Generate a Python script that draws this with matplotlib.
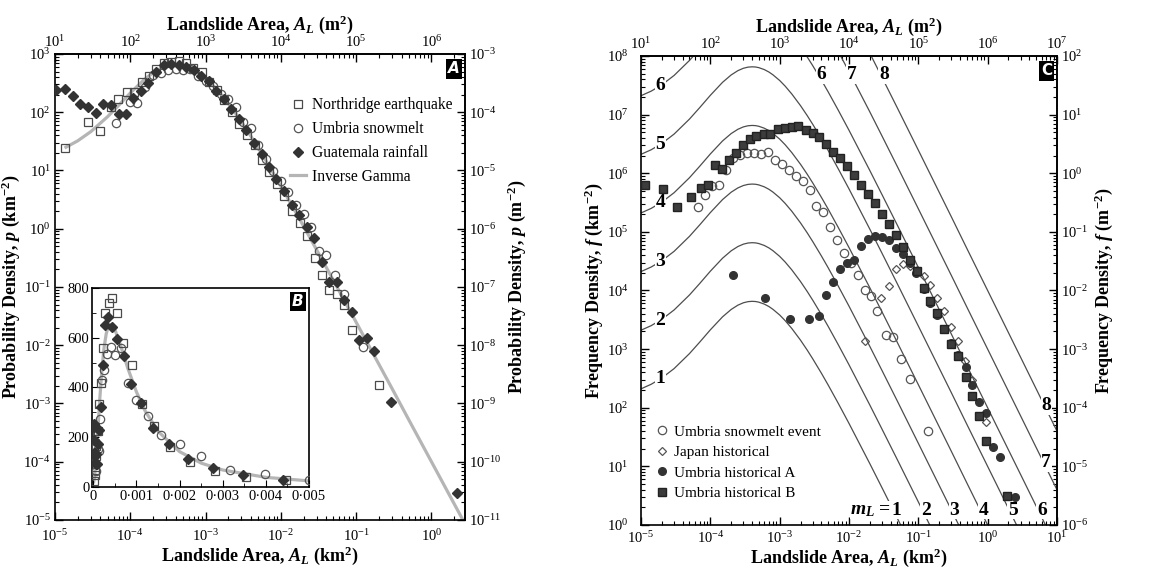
import numpy as np
import matplotlib.pyplot as plt
from matplotlib.ticker import (FixedLocator, LogLocator, NullFormatter, MultipleLocator,
                               FuncFormatter)

plt.rcParams['font.family'] = 'serif'
plt.rcParams['font.serif'] = ['Liberation Serif', 'DejaVu Serif']
plt.rcParams['mathtext.fontset'] = 'custom'
plt.rcParams['mathtext.rm'] = 'Liberation Serif'
plt.rcParams['mathtext.it'] = 'Liberation Serif:italic'
plt.rcParams['mathtext.bf'] = 'Liberation Serif:bold'
plt.rcParams['mathtext.bfit'] = 'Liberation Serif:italic:bold'
plt.rcParams['axes.linewidth'] = 1.2

# --- panel A / B : probability densities (km^2, km^-2) ---
northridge_area = [1.35e-5, 2.73e-5, 3.98e-5, 5.52e-5, 6.98e-5, 8.93e-5, 1.12e-4, 1.42e-4, 1.77e-4, 2.22e-4,
                   2.78e-4, 3.52e-4, 4.41e-4, 5.52e-4, 6.9e-4, 8.9e-4, 1.12e-3, 1.41e-3, 1.77e-3, 2.24e-3,
                   2.82e-3, 3.55e-3, 4.47e-3, 5.6e-3, 7.0e-3, 8.8e-3, 1.1e-2, 1.42e-2, 1.79e-2, 2.24e-2,
                   2.84e-2, 3.56e-2, 4.4e-2, 5.5e-2, 6.85e-2, 8.85e-2, 0.2]
northridge_p = [24, 69, 48, 124, 166, 224, 224, 333, 420, 560,
                700, 740, 760, 700, 580, 490, 335, 245, 162, 100,
                64, 40, 27, 15.3, 9.3, 5.9, 3.7, 2.0, 1.25, 0.75,
                0.32, 0.16, 0.088, 0.077, 0.049, 0.018, 2.1e-3]

umbria_area = [6.4e-5, 9.8e-5, 1.23e-4, 1.58e-4, 2.03e-4, 2.56e-4, 3.2e-4, 4.0e-4, 5.0e-4, 6.3e-4,
               8.0e-4, 1.0e-3, 1.26e-3, 1.58e-3, 2.0e-3, 2.5e-3, 3.16e-3, 3.98e-3, 5.0e-3, 6.3e-3,
               7.9e-3, 1.0e-2, 1.26e-2, 1.58e-2, 2.0e-2, 2.5e-2, 3.2e-2, 4.0e-2, 5.2e-2, 7.0e-2, 0.125]
umbria_p = [65, 151, 146, 274, 430, 470, 535, 561, 531, 558,
            420, 350, 285, 208, 172, 124, 67, 54, 27.5, 16,
            9.9, 6.7, 4.2, 2.6, 1.8, 1.07, 0.42, 0.36, 0.16, 0.075, 9.5e-3]

guatemala_area = [1.04e-5, 1.36e-5, 1.74e-5, 2.18e-5, 2.75e-5, 3.48e-5, 4.4e-5, 5.6e-5, 7.0e-5, 8.75e-5,
                  1.1e-4, 1.39e-4, 1.74e-4, 2.2e-4, 2.78e-4, 3.48e-4, 4.4e-4, 5.5e-4, 7.0e-4, 8.7e-4,
                  1.1e-3, 1.39e-3, 1.75e-3, 2.2e-3, 2.78e-3, 3.48e-3, 4.4e-3, 5.6e-3, 7.0e-3, 8.75e-3,
                  1.1e-2, 1.42e-2, 1.75e-2, 2.24e-2, 2.78e-2, 3.56e-2, 4.4e-2, 5.5e-2, 7.0e-2, 8.85e-2,
                  0.11, 0.14, 0.175, 0.293, 2.2]
guatemala_p = [240, 252, 189, 136, 124, 98, 136, 131, 92, 92,
               173, 231, 320, 490, 650, 684, 645, 595, 528, 415,
               337, 236, 171, 113, 76, 49, 30, 19, 11.6, 7.1,
               4.4, 2.6, 1.69, 1.07, 0.68, 0.27, 0.123, 0.123, 0.059, 0.0365,
               0.0123, 0.0133, 7.9e-3, 1.07e-3, 2.9e-5]

# inverse gamma curve
curve_area = np.array([1e-5, 1.4e-5, 2e-5, 3e-5, 5e-5, 7e-5, 1e-4, 1.5e-4, 2e-4, 2.5e-4,
                       3e-4, 3.5e-4, 4e-4, 4.5e-4, 5e-4, 6e-4, 7e-4, 8e-4, 1e-3, 1.2e-3,
                       1.5e-3, 2e-3, 2.5e-3, 3e-3, 4e-3, 5e-3, 7e-3, 1e-2, 2e-2, 3e-2,
                       5e-2, 0.1, 0.2, 0.3, 0.5, 1.0, 3.0, 10.0])
curve_p = np.array([21.0, 25.1, 32.2, 46.5, 83.8, 130.8, 213, 355, 475, 562,
                    617, 645, 653, 648, 632, 586, 532, 477, 382, 306,
                    224, 142, 96.0, 68.3, 38.8, 24.5, 11.9, 5.41, 1.11, 0.430,
                    0.129, 0.0248, 4.74e-3, 1.80e-3, 5.25e-4, 1.0e-4, 7.2e-6, 4.0e-7])

# --- panel C : frequency densities (km^-2) ---
snowmelt_area = [6.65e-5, 8.4e-5, 1.07e-4, 1.33e-4, 1.7e-4, 2.1e-4, 2.67e-4, 3.4e-4, 4.3e-4, 5.45e-4,
                 6.7e-4, 8.6e-4, 1.08e-3, 1.35e-3, 1.71e-3, 2.14e-3, 2.7e-3, 3.36e-3, 4.2e-3, 5.3e-3,
                 6.65e-3, 8.5e-3, 1.07e-2, 1.33e-2, 1.69e-2, 2.1e-2, 2.5e-2, 3.37e-2, 4.3e-2, 5.65e-2,
                 7.6e-2, 0.136]
snowmelt_f = [2.68e5, 4.2e5, 6.0e5, 6.3e5, 1.15e6, 1.82e6, 2.07e6, 2.2e6, 2.2e6, 2.16e6,
              2.27e6, 1.7e6, 1.46e6, 1.15e6, 8.9e5, 7.3e5, 5.1e5, 2.75e5, 2.2e5, 1.21e5,
              7.3e4, 4.3e4, 3.0e4, 1.82e4, 1.02e4, 7.9e3, 4.5e3, 1.75e3, 1.6e3, 673,
              306, 40.7]

japan_area = [1.69e-2, 2.92e-2, 3.8e-2, 4.83e-2, 6.0e-2, 7.7e-2, 9.6e-2, 0.119, 0.149, 0.186,
              0.237, 0.294, 0.375, 0.473, 0.589, 0.935]
japan_f = [1.38e3, 7.4e3, 1.2e4, 2.3e4, 2.8e4, 2.6e4, 2.25e4, 1.77e4, 1.25e4, 7.4e3,
           4.4e3, 2.37e3, 1.38e3, 630, 299, 58]

hist_a_area = [2.14e-4, 6.2e-4, 1.42e-3, 2.65e-3, 3.69e-3, 4.65e-3, 5.96e-3, 7.4e-3, 9.3e-3, 1.18e-2,
               1.47e-2, 1.9e-2, 2.39e-2, 3.0e-2, 3.8e-2, 4.73e-2, 6.0e-2, 7.5e-2, 9.35e-2, 0.119,
               0.149, 0.188, 0.237, 0.30, 0.38, 0.48, 0.60, 0.75, 0.96, 1.2, 1.53, 2.52]
hist_a_f = [1.87e4, 7.4e3, 3.24e3, 3.24e3, 3.6e3, 8.4e3, 1.37e4, 2.3e4, 2.9e4, 3.3e4,
            5.75e4, 7.5e4, 8.5e4, 8.3e4, 7.3e4, 5.2e4, 4.15e4, 3.0e4, 1.97e4, 1.05e4,
            6.2e3, 3.8e3, 2.2e3, 1.25e3, 790, 500, 240, 127, 80, 21.7, 14.7, 2.97]

hist_b_area = [1.15e-5, 2.07e-5, 3.29e-5, 5.2e-5, 7.3e-5, 9.3e-5, 1.15e-4, 1.46e-4, 1.85e-4, 2.31e-4,
               2.94e-4, 3.71e-4, 4.62e-4, 5.9e-4, 7.3e-4, 9.4e-4, 1.18e-3, 1.49e-3, 1.87e-3, 2.36e-3,
               2.98e-3, 3.75e-3, 4.73e-3, 5.96e-3, 7.5e-3, 9.5e-3, 1.19e-2, 1.5e-2, 1.9e-2, 2.39e-2,
               3.0e-2, 3.8e-2, 4.8e-2, 6.0e-2, 7.6e-2, 9.6e-2, 0.119, 0.149, 0.188, 0.237,
               0.301, 0.38, 0.483, 0.602, 0.75, 0.96, 1.91]
hist_b_f = [6.4e5, 5.4e5, 2.68e5, 3.86e5, 5.6e5, 6.3e5, 1.37e6, 1.2e6, 1.7e6, 2.2e6,
            3.03e6, 3.84e6, 4.26e6, 4.67e6, 4.67e6, 5.7e6, 5.9e6, 6.06e6, 6.3e6, 5.4e6,
            4.85e6, 4.1e6, 3.15e6, 2.3e6, 1.8e6, 1.35e6, 9.2e5, 6.3e5, 4.5e5, 3.05e5,
            2.04e5, 1.34e5, 8.9e4, 5.6e4, 3.3e4, 2.16e4, 1.1e4, 6.7e3, 4.1e3, 2.19e3,
            1.23e3, 768, 340, 161, 71, 27.5, 3.1]

# landslide-event magnitudes m_L for the model curves
magnitudes = [1, 2, 3, 4, 5, 6, 7, 8]
left_labels = [1, 2, 3, 4, 5, 6]
top_labels = [6, 7, 8]
top_label_area = [4.0e-3, 1.1e-2, 3.2e-2]
bottom_labels = [1, 2, 3, 4, 5, 6]
bottom_label_area = [0.048, 0.128, 0.33, 0.89, 2.33, 6.1]
right_labels = [8, 7]
right_label_f = [110, 11.7]

GRAY = '#b5b5b5'
DARK = '#333333'
LBL = 13
TICK = 10.5
bold_txt = dict(fontsize=LBL, fontweight='bold')


def log_locators(axis, lo, hi):
    # decade ticks only inside the visible range (exponents lo..hi)
    axis.set_major_locator(FixedLocator(10.0 ** np.arange(lo, hi + 1)))
    axis.set_minor_locator(LogLocator(base=10, subs=np.arange(2, 10), numticks=30))
    axis.set_minor_formatter(NullFormatter())


def tick_style(ax, **kw):
    ax.tick_params(which='both', direction='in', labelsize=TICK, pad=3, **kw)
    ax.tick_params(which='major', length=6, width=1.0)
    ax.tick_params(which='minor', length=3, width=0.8)


km2_to_m2 = (lambda a: a * 1e6, lambda a: a / 1e6)
perkm2_to_perm2 = (lambda p: p * 1e-6, lambda p: p * 1e6)

fig = plt.figure(figsize=(11.74, 5.67), dpi=100)

# ================= panel A =================
axa = fig.add_axes([0.0468, 0.0829, 0.3492, 0.8219])
axa.set_xscale('log')
axa.set_yscale('log')
axa.plot(curve_area[1:], curve_p[1:], color=GRAY, lw=2.3, zorder=1, label='Inverse Gamma')
axa.plot(northridge_area, northridge_p, 's', ms=5.5, mfc='none', mec='#4a4a4a', mew=0.9, zorder=3,
         label='Northridge earthquake')
axa.plot(umbria_area, umbria_p, 'o', ms=6, mfc='none', mec='#555555', mew=0.9, zorder=3,
         label='Umbria snowmelt')
axa.plot(guatemala_area, guatemala_p, 'D', ms=4.8, mfc=DARK, mec=DARK, zorder=4,
         label='Guatemala rainfall')
axa.set_xlim(1e-5, 10 ** 0.444)
axa.set_ylim(1e-5, 1e3)
log_locators(axa.xaxis, -5, 0)
log_locators(axa.yaxis, -5, 3)
tick_style(axa, top=False, right=False)
axa.tick_params(axis='x', pad=6)
axa.set_xlabel(r'Landslide Area, $\mathbfit{A_L}$ (km$^{\mathbf{2}}$)', labelpad=0, **bold_txt)
axa.set_ylabel(r'Probability Density, $\mathbfit{p}$ (km$^{\mathbf{-2}}$)', labelpad=1, **bold_txt)

h, l = axa.get_legend_handles_labels()
order = [1, 2, 3, 0]
axa.legend([h[i] for i in order], [l[i] for i in order], loc='upper left',
           bbox_to_anchor=(0.548, 0.93), frameon=False, fontsize=11.2,
           handlelength=1.0, handletextpad=0.4, labelspacing=0.5, borderpad=0.2)

seca_x = axa.secondary_xaxis('top', functions=km2_to_m2)
log_locators(seca_x.xaxis, 1, 6)
tick_style(seca_x)
seca_x.set_xlabel(r'Landslide Area, $\mathbfit{A_L}$ (m$^{\mathbf{2}}$)', labelpad=3, **bold_txt)
seca_y = axa.secondary_yaxis('right', functions=perkm2_to_perm2)
log_locators(seca_y.yaxis, -11, -3)
tick_style(seca_y)
seca_y.set_ylabel(r'Probability Density, $\mathbfit{p}$ (m$^{\mathbf{-2}}$)', labelpad=3, **bold_txt)

axa.text(0.988, 0.984, 'A', transform=axa.transAxes, ha='right', va='top', color='white',
         fontsize=11, fontweight='bold', fontstyle='italic', family='DejaVu Sans',
         bbox=dict(facecolor='black', edgecolor='none', pad=1.6))

# ================= inset B =================
axb = fig.add_axes([0.0784, 0.1411, 0.1848, 0.351])
axb.plot(curve_area, curve_p, color=GRAY, lw=2.3, zorder=1)
axb.plot(northridge_area, northridge_p, 's', ms=5.5, mfc='none', mec='#4a4a4a', mew=0.9, zorder=3)
axb.plot(umbria_area, umbria_p, 'o', ms=6, mfc='none', mec='#555555', mew=0.9, zorder=3)
axb.plot(guatemala_area, guatemala_p, 'D', ms=4.8, mfc=DARK, mec=DARK, zorder=4)
axb.set_xlim(-3e-5, 0.005)
axb.set_ylim(0, 800)
axb.xaxis.set_major_locator(MultipleLocator(0.001))
axb.xaxis.set_minor_locator(MultipleLocator(0.0005))
axb.yaxis.set_major_locator(MultipleLocator(200))
axb.yaxis.set_minor_locator(MultipleLocator(100))
axb.xaxis.set_major_formatter(FuncFormatter(
    lambda v, pos: '0' if abs(v) < 1e-9 else f'{v:.3f}'.replace('.', '\u00b7')))
axb.tick_params(which='both', direction='in', labelsize=TICK, pad=2)
axb.tick_params(which='major', length=5)
axb.tick_params(which='minor', length=3)
axb.text(0.975, 0.97, 'B', transform=axb.transAxes, ha='right', va='top', color='white',
         fontsize=11, fontweight='bold', fontstyle='italic', family='DejaVu Sans',
         bbox=dict(facecolor='black', edgecolor='none', pad=1.6))

# ================= panel C =================
axc = fig.add_axes([0.546, 0.0741, 0.3543, 0.8272])
axc.set_xscale('log')
axc.set_yscale('log')
for m in magnitudes:
    axc.plot(curve_area, 10.0 ** m * curve_p, color='#4d4d4d', lw=0.9, zorder=1)

label_box = dict(facecolor='white', edgecolor='none', pad=0.6)
num_txt = dict(fontsize=14, fontweight='bold', ha='center', va='center', zorder=2, bbox=label_box)
p_left = 10 ** np.interp(np.log10(1.9e-5), np.log10(curve_area), np.log10(curve_p))
for m in left_labels:
    axc.text(1.9e-5, 10.0 ** m * p_left, str(m), **num_txt)
for m, a in zip(top_labels, top_label_area):
    axc.text(a, 4.8e7, str(m), **num_txt)
for m, a in zip(bottom_labels, bottom_label_area):
    axc.text(a, 1.8, str(m), **num_txt)
axc.text(0.041, 1.8, r'$\mathbfit{m_L}$ =', fontsize=14, fontweight='bold', ha='right', va='center',
         zorder=2, bbox=label_box)
for m, fval in zip(right_labels, right_label_f):
    axc.text(7.0, fval, str(m), **num_txt)

axc.plot(snowmelt_area, snowmelt_f, 'o', ms=6, mfc='none', mec='#555555', mew=0.9, zorder=4,
         label='Umbria snowmelt event')
axc.plot(japan_area, japan_f, 'D', ms=4, mfc='none', mec='#555555', mew=0.9, zorder=4,
         label='Japan historical')
axc.plot(hist_a_area, hist_a_f, 'o', ms=5.5, mfc=DARK, mec=DARK, zorder=4,
         label='Umbria historical A')
axc.plot(hist_b_area, hist_b_f, 's', ms=5.2, mfc='#3c3c3c', mec='#222222', zorder=4,
         label='Umbria historical B')
axc.set_xlim(1e-5, 10)
axc.set_ylim(1, 1e8)
log_locators(axc.xaxis, -5, 1)
log_locators(axc.yaxis, 0, 8)
tick_style(axc, top=False, right=False)
axc.tick_params(axis='x', pad=4)
axc.tick_params(axis='y', pad=9)
axc.set_xlabel(r'Landslide Area, $\mathbfit{A_L}$ (km$^{\mathbf{2}}$)', labelpad=0, **bold_txt)
axc.set_ylabel(r'Frequency Density, $\mathbfit{f}$ (km$^{\mathbf{-2}}$)', labelpad=1, **bold_txt)
axc.legend(loc='lower left', bbox_to_anchor=(0.01, 0.03), frameon=False, fontsize=11,
           handlelength=0.8, handletextpad=0.4, labelspacing=0.45, borderpad=0.2)

secc_x = axc.secondary_xaxis('top', functions=km2_to_m2)
log_locators(secc_x.xaxis, 1, 7)
tick_style(secc_x)
secc_x.set_xlabel(r'Landslide Area, $\mathbfit{A_L}$ (m$^{\mathbf{2}}$)', labelpad=3, **bold_txt)
secc_y = axc.secondary_yaxis('right', functions=perkm2_to_perm2)
log_locators(secc_y.yaxis, -6, 2)
tick_style(secc_y)
secc_y.set_ylabel(r'Frequency Density, $\mathbfit{f}$ (m$^{\mathbf{-2}}$)', labelpad=3, **bold_txt)

axc.text(0.988, 0.984, 'C', transform=axc.transAxes, ha='right', va='top', color='white',
         fontsize=11, fontweight='bold', family='DejaVu Sans',
         bbox=dict(facecolor='black', edgecolor='none', pad=1.6))

fig.savefig('out.png', dpi=100)
